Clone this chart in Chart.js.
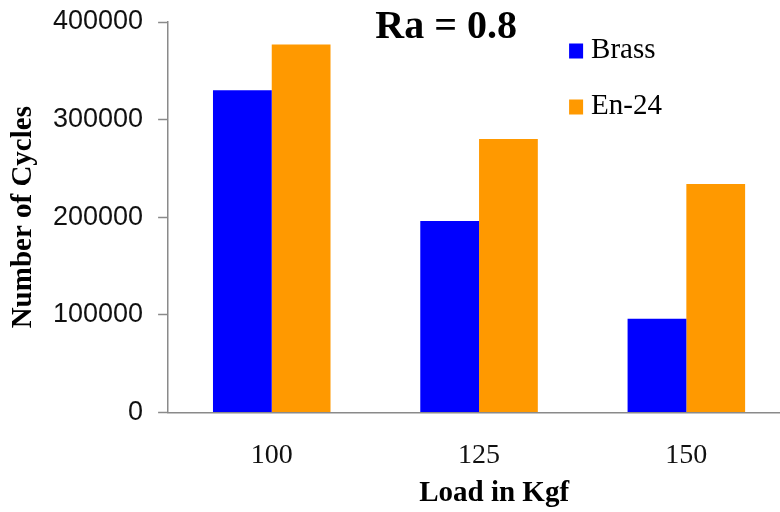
<!DOCTYPE html>
<html>
<head>
<meta charset="utf-8">
<title>Ra = 0.8</title>
<script src="https://cdn.jsdelivr.net/npm/chart.js@4.4.0/dist/chart.umd.min.js"></script>
<style>
  html, body { margin: 0; padding: 0; background: #fff; overflow: hidden; width: 780px; height: 512px; }
  #wrap { width: 800px; height: 512px; }
  canvas { display: block; }
</style>
</head>
<body>
<div id="wrap"><canvas id="chart" width="800" height="512"></canvas></div>
<script>
// Fatigue life (number of cycles) against load, surface roughness Ra = 0.8
const loads = ['100', '125', '150'];
const brassCycles = [330000, 196000, 96000];
const en24Cycles = [377000, 280000, 234000];
const yTickValues = [0, 100000, 200000, 300000, 400000];
const seriesNames = ['Brass', 'En-24'];
const seriesColors = ['#0000ff', '#ff9900'];
const chartTitle = 'Ra = 0.8';
const xAxisTitle = 'Load in Kgf';
const yAxisTitle = 'Number of Cycles';

const axisGrey = '#8a8a8a';
const serif = '"Liberation Serif", "Times New Roman", serif';
const sans = '"Liberation Sans", Arial, sans-serif';

// Chart title and legend sit inside the plot area (top right);
// the x-axis title sits below the category labels, a little right of centre
const overlayPlugin = {
  id: 'overlay',
  afterDraw(chart) {
    const ctx = chart.ctx;
    const area = chart.chartArea;
    ctx.save();
    ctx.fillStyle = '#000';
    ctx.textBaseline = 'alphabetic';

    ctx.font = 'bold 40px ' + serif;
    ctx.textAlign = 'center';
    ctx.fillText(chartTitle, area.left + 278, 38);

    ctx.font = 'bold 29px ' + serif;
    ctx.fillText(xAxisTitle, area.left + 326, area.bottom + 89);

    ctx.font = '29px ' + serif;
    ctx.textAlign = 'left';
    chart.data.datasets.forEach((ds, i) => {
      const cy = 51 + i * 56;
      const bx = area.left + 401;
      ctx.fillStyle = ds.backgroundColor;
      ctx.fillRect(bx, cy - 7.5, 14, 15);
      ctx.fillStyle = '#000';
      ctx.fillText(ds.label, bx + 22, cy + 7);
    });
    ctx.restore();
  }
};

new Chart(document.getElementById('chart'), {
  type: 'bar',
  data: {
    labels: loads,
    datasets: [
      { label: seriesNames[0], data: brassCycles, backgroundColor: seriesColors[0],
        categoryPercentage: 0.567, barPercentage: 1.0 },
      { label: seriesNames[1], data: en24Cycles, backgroundColor: seriesColors[1],
        categoryPercentage: 0.567, barPercentage: 1.0 }
    ]
  },
  options: {
    responsive: false,
    animation: false,
    devicePixelRatio: 1,
    layout: { padding: { top: 22, right: 10, left: 9, bottom: 14 } },
    plugins: {
      legend: { display: false },
      title: { display: false },
      tooltip: { enabled: false }
    },
    scales: {
      x: {
        grid: { display: false, drawTicks: false },
        border: { display: true, color: axisGrey, width: 1.5 },
        ticks: { padding: 26, color: '#111', font: { family: serif, size: 28 } }
      },
      y: {
        min: 0,
        max: 400000,
        afterBuildTicks: (scale) => { scale.ticks = yTickValues.map(v => ({ value: v })); },
        ticks: {
          padding: 15, color: '#111',
          font: { family: sans, size: 27, lineHeight: 0.5 },
          callback: (v) => String(v)
        },
        grid: { drawOnChartArea: false, drawTicks: true, tickLength: 10, tickColor: axisGrey, tickWidth: 1.5 },
        border: { display: true, color: axisGrey, width: 1.5 },
        title: {
          display: true, text: yAxisTitle, color: '#000',
          font: { family: serif, size: 29, weight: 'bold', lineHeight: 1 },
          padding: { top: 0, bottom: 0 }
        }
      }
    }
  },
  plugins: [overlayPlugin]
});
</script>
</body>
</html>
